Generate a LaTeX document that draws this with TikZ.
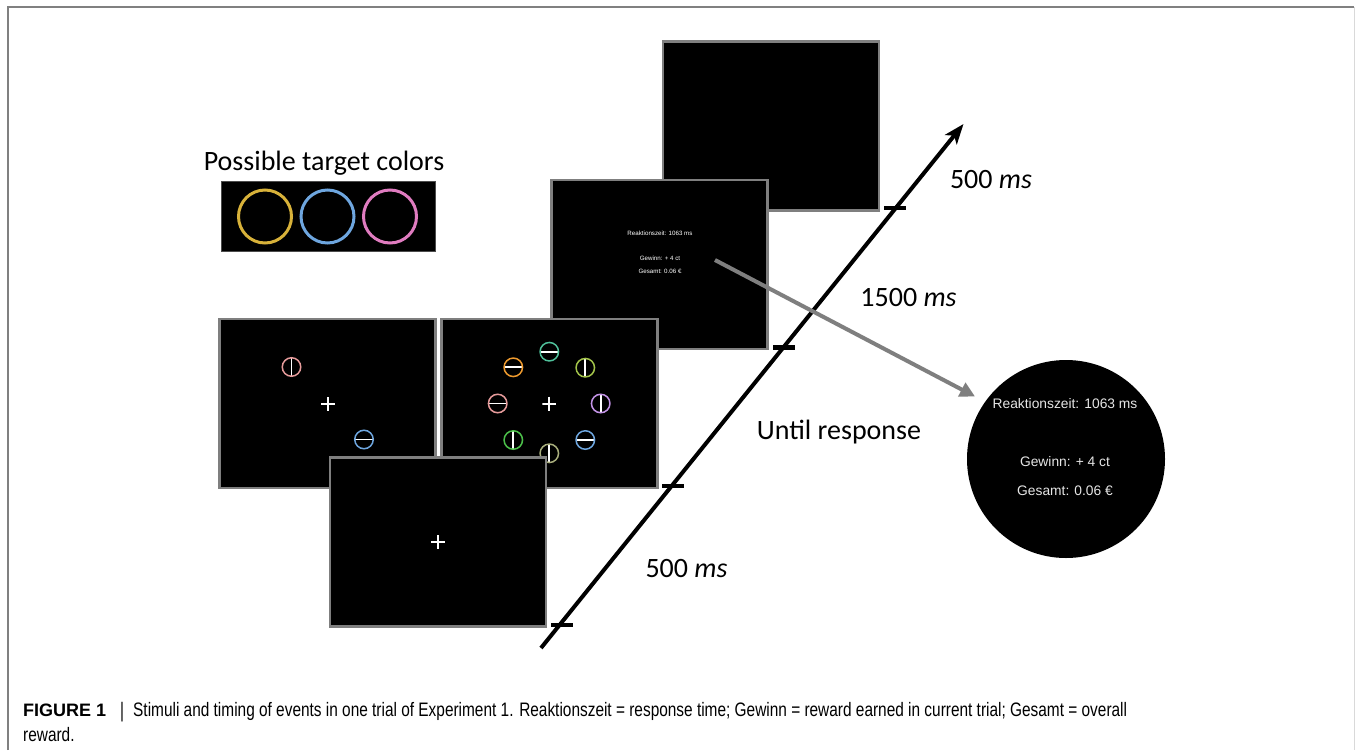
\documentclass[tikz,border=0pt]{standalone}
\usepackage{fontspec}
\setmainfont{Carlito}
\newfontfamily\arialf{Liberation Sans}
\newfontfamily\capfont{Liberation Sans}
\usetikzlibrary{arrows.meta}

\definecolor{edgegray}{HTML}{7F7F7F}
\definecolor{framegray}{HTML}{808080}
\definecolor{tyellow}{HTML}{D8B23A}
\definecolor{tblue}{HTML}{6EA6DF}
\definecolor{tpink}{HTML}{E07CC0}
\definecolor{sSalmon}{HTML}{E59A9A}
\definecolor{sBlue}{HTML}{6EA6DF}
\definecolor{sTeal}{HTML}{4FC09A}
\definecolor{sOrange}{HTML}{EE9A2E}
\definecolor{sLime}{HTML}{A3C44A}
\definecolor{sPurple}{HTML}{C393E6}
\definecolor{sGreen}{HTML}{4CC04A}
\definecolor{sOlive}{HTML}{A8AE7C}
\definecolor{captext}{HTML}{333333}
\definecolor{fbtext}{HTML}{E6E6E6}

\newsavebox\capboxA
\newsavebox\capboxB

\tikzset{
  screen/.style={draw=edgegray, line width=2.5pt, fill=black, inner sep=0pt, outer sep=0pt,
    minimum width=216pt, minimum height=169pt},
  stimv/.style={circle, draw=#1, line width=1.5pt, minimum size=18.5pt, inner sep=0pt,
    path picture={\draw[white, line width=1.7pt] (path picture bounding box.north) -- (path picture bounding box.south);}},
  stimh/.style={circle, draw=#1, line width=1.5pt, minimum size=18.5pt, inner sep=0pt,
    path picture={\draw[white, line width=1.7pt] (path picture bounding box.west) -- (path picture bounding box.east);}},
  fixcross/.style={minimum size=14pt, inner sep=0pt,
    path picture={\draw[white, line width=2pt] (path picture bounding box.north) -- (path picture bounding box.south)
      (path picture bounding box.west) -- (path picture bounding box.east);}},
  ring/.style={circle, draw=#1, line width=3pt, minimum size=53pt, inner sep=0pt},
  tickmark/.style={fill=black, inner sep=0pt, minimum width=22pt, minimum height=4.5pt},
  timelabel/.style={font=\fontsize{28}{32}\selectfont, anchor=base, inner sep=0pt},
  fbsmall/.style={font=\arialf\fontsize{6.2}{7}\selectfont, text=white, inner sep=0pt},
  fbbig/.style={font=\arialf\fontsize{13.8}{16}\selectfont, text=fbtext, inner sep=0pt},
  timeaxis/.style={line width=4pt, -{Stealth[length=20pt, width=15pt, inset=5pt]}},
  zoomarrow/.style={draw=edgegray, line width=4pt, -{Triangle[length=15pt, width=15pt]}},
  captionpart/.style={anchor=base west, inner sep=0pt, text=captext, font=\capfont\fontsize{19.5}{23}\selectfont},
}

\begin{document}
% caption body, condensed to the printed line length
\sbox\capboxA{\capfont\fontsize{19.5}{23}\selectfont Stimuli and timing of events in one trial of Experiment 1. Reaktionszeit = response time; Gewinn = reward earned in current trial; Gesamt = overall}%
\sbox\capboxB{\capfont\fontsize{19.5}{23}\selectfont reward.}%
\pgfmathsetmacro\capscale{994/(\the\wd\capboxA)}%
\begin{tikzpicture}[x=1pt, y=-1pt]
  % page and outer frame
  \useasboundingbox (0,0) rectangle (1355,750);
  \fill[white] (0,0) rectangle (1355,750);
  \draw[framegray, line width=1.5pt] (8,750) -- (8,7) -- (1354,7);
  \draw[black!15, line width=1pt] (1354,7) -- (1354,750);

  % palette of possible target colours
  \node[font=\fontsize{28}{32}\selectfont, anchor=base, inner sep=0pt] (ptitle) at (324,170.5) {Possible target colors};
  \node[fill=black, draw=black!70, line width=1pt, minimum width=214pt, minimum height=70.5pt, inner sep=0pt] (palette) at (328,216.5) {};
  \node[ring=tyellow] (ringY) at (265,216.5) {};
  \node[ring=tblue] (ringB) at (327.5,216.5) {};
  \node[ring=tpink] (ringP) at (390,216.5) {};

  % blank screen (last event)
  \node[screen] (blank) at (771,126) {};

  % feedback screen
  \node[screen] (feedback) at (659.5,264.5) {};
  \node[fbsmall] (fbRT) at (660,233) {Reaktionszeit: 1063 ms};
  \node[fbsmall] (fbWin) at (660,258.3) {Gewinn: + 4 ct};
  \node[fbsmall] (fbSum) at (660,271.5) {Gesamt: 0.06 €};

  % sparse search display
  \node[screen] (search1) at (327.5,403.5) {};
  \node[fixcross] (fix1) at (328,404) {};
  \node[stimv=sSalmon] (a1) at (291.5,367) {};
  \node[stimh=sBlue] (a2) at (364,439.5) {};

  % dense search display
  \node[screen] (search2) at (549.5,403.5) {};
  \node[fixcross] (fix2) at (549.3,403.5) {};
  \node[stimh=sTeal] (b1) at (549.3,351.7) {};
  \node[stimh=sOrange] (b2) at (513.3,367.3) {};
  \node[stimv=sLime] (b3) at (585.3,367.7) {};
  \node[stimh=sSalmon] (b4) at (497.7,403.5) {};
  \node[stimv=sPurple] (b5) at (600.7,403.5) {};
  \node[stimv=sGreen] (b6) at (513.3,440) {};
  \node[stimh=sBlue] (b7) at (585.3,440) {};
  \node[stimv=sOlive] (b8) at (549.3,453.3) {};

  % fixation screen
  \node[screen] (fixscreen) at (438,542) {};
  \node[fixcross] (fix3) at (438,542) {};

  % time axis with ticks
  \coordinate (axisStart) at (541,648);
  \coordinate (axisEnd) at (963.5,124);
  \draw[timeaxis] (axisStart) -- (axisEnd);
  \node[tickmark] (tk1) at (562,625) {};
  \node[tickmark] (tk2) at (673,486) {};
  \node[tickmark] (tk3) at (784,347.5) {};
  \node[tickmark] (tk4) at (894.5,208) {};

  % magnified feedback
  \node[circle, fill=black, minimum size=198pt, inner sep=0pt] (magnify) at (1066,459) {};
  \node[fbbig] (mRT) at (1065,403.5) {Reaktionszeit: 1063 ms};
  \node[fbbig] (mWin) at (1065,462) {Gewinn: + 4 ct};
  \node[fbbig] (mSum) at (1065,491) {Gesamt: 0.06 €};
  \coordinate (zoomFrom) at (715,260);
  \coordinate (zoomTo) at (975,396.5);
  \draw[zoomarrow] (zoomFrom) -- (zoomTo);

  % durations
  \node[timelabel] (d1) at (686.5,577) {500 \textit{ms}};
  \node[timelabel] (d2) at (839,439) {Until response};
  \node[timelabel] (d3) at (908.5,306) {1500 \textit{ms}};
  \node[timelabel] (d4) at (991,188.5) {500 \textit{ms}};

  % caption
  \node[captionpart, text=black, font=\capfont\fontsize{18}{22}\selectfont] (capLabel) at (23,716.5) {\textbf{FIGURE 1}};
  \node[captionpart, anchor=base, text=black!70, font=\capfont\fontsize{21}{24}\selectfont] (capBar) at (122,717.5) {\textbar};
  \node[captionpart] (capBody) at (133,716.5) {\scalebox{\capscale}[1]{\usebox\capboxA}};
  \node[captionpart] (capTail) at (23,741) {\scalebox{\capscale}[1]{\usebox\capboxB}};
\end{tikzpicture}
\end{document}
